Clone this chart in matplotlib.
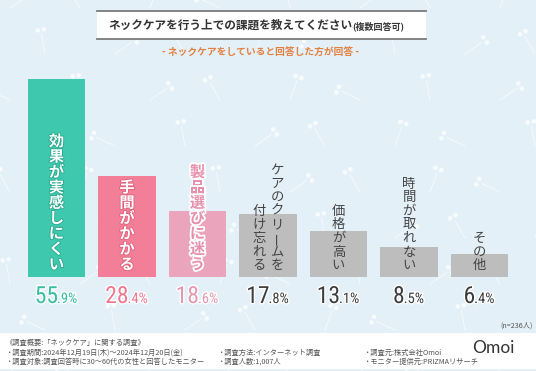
import matplotlib
matplotlib.use("Agg")
import matplotlib.pyplot as plt
import matplotlib.patheffects as pe
from matplotlib import font_manager
from matplotlib.patches import Rectangle, Circle
import math

plt.rcParams['font.family'] = ['Noto Sans CJK JP', 'DejaVu Sans']

# データ
values = [55.9, 28.4, 18.6, 17.8, 13.1, 8.5, 6.4]
labels = [["効果が実感しにくい"], ["手間がかかる"], ["製品選びに迷う"],
          ["ケアのクリームを", "付け忘れる"], ["価格が高い"], ["時間が取れない"], ["その他"]]
bar_colors = ["#3ec9ae", "#f27f97", "#eaa4bb", "#bdbdbd", "#bdbdbd", "#bdbdbd", "#bdbdbd"]
pct_colors = ["#38bfa4", "#ef7891", "#e597b0", "#3c3c3c", "#3c3c3c", "#3c3c3c", "#3c3c3c"]
title = "ネックケアを行う上での課題を教えてください"
title_sub = "(複数回答可)"
subtitle = "- ネックケアをしていると回答した方が回答 -"
n_note = "(n=236人)"
footer = [
    ("《調査概要:「ネックケア」に関する調査》", 5, 343),
    ("・調査期間:2024年12月19日(木)～2024年12月20日(金)", 5, 353),
    ("・調査対象:調査回答時に30～60代の女性と回答したモニター", 5, 362),
    ("・調査方法:インターネット調査", 217, 353),
    ("・調査人数:1,007人", 217, 362),
    ("・調査元:株式会社Omoi", 363, 353),
    ("・モニター提供元:PRIZMAリサーチ", 363, 362),
]

W, H = 536, 371
fig = plt.figure(figsize=(W / 100, H / 100), dpi=100)
fig.patch.set_facecolor("#e4f0f8")

# 背景（模様・タイトル・フッター）
bg = fig.add_axes([0, 0, 1, 1])
bg.set_xlim(0, W)
bg.set_ylim(H, 0)
bg.axis("off")

angles = [35, 120, 70, 155, 100]
k = 0
for row in range(9):
    for col in range(9):
        x0 = col * 70 + (35 if row % 2 else 0) + 10
        y0 = row * 46 + 8
        a = math.radians(angles[k % len(angles)])
        k += 1
        x1, y1 = x0 + 20 * math.cos(a), y0 - 20 * math.sin(a)
        bg.plot([x0, x1], [y0, y1], color="white", lw=0.6, alpha=0.7, zorder=0)
        for d in (-0.6, 0.6):
            bx = x1 + 5.5 * math.cos(a + d)
            by = y1 - 5.5 * math.sin(a + d)
            bg.add_patch(Circle((bx, by), 2.3, color="white", alpha=0.75, lw=0, zorder=0))

bg.add_patch(Rectangle((97, 11), 329, 28, facecolor="white", edgecolor="none", zorder=2))
bg.plot([97, 426], [11, 11], color="#7a7a7a", lw=1.3, zorder=3)
bg.plot([97, 426], [39, 39], color="#7a7a7a", lw=1.3, zorder=3)
bg.text(108, 25.5, title, fontsize=8.4, fontweight="bold", color="#333333",
        ha="left", va="center", zorder=4)
bg.text(352, 26, title_sub, fontsize=6.5, fontweight="bold", color="#333333",
        ha="left", va="center", zorder=4)
bg.text(261, 52, subtitle, fontsize=7, fontweight="bold", color="#e3803f",
        ha="center", va="center", zorder=4)

bg.add_patch(Rectangle((0, 333), W, 36, facecolor="white", edgecolor="none", zorder=2))
bg.text(533, 326, n_note, fontsize=5.2, color="#555555", ha="right", va="center", zorder=4)
for txt, fx, fy in footer:
    bg.text(fx, fy, txt, fontsize=5.2, color="#555555", ha="left", va="center", zorder=4)
bg.text(493, 348, "Omoi", fontsize=12.5, family=["Lato", "DejaVu Sans"], color="#333333",
        ha="center", va="center", zorder=4)

# 棒グラフ
x_left, x_right = 21.25, 514.75
base, top_px = 277, 79
ymax = 60
h_px = (base - top_px) * ymax / values[0]
ax = fig.add_axes([x_left / W, (H - base) / H, (x_right - x_left) / W, h_px / H])
ax.set_xlim(-0.5, len(values) - 0.5)
ax.set_ylim(0, ymax)
ax.axis("off")
ax.patch.set_alpha(0)

xs = list(range(len(values)))
ax.bar(xs, values, width=0.81, color=bar_colors, zorder=2)

# 縦書きラベル
for i, cols in enumerate(labels):
    if i < 3:
        fs, step, weight = 11, 15.4, "bold"
    else:
        fs, step, weight = 9.6, 13.6, "normal"
    if i == 0:
        color, effects = "white", [pe.withStroke(linewidth=1.2, foreground="#28a88e")]
    elif i == 1:
        color, effects = "white", [pe.withStroke(linewidth=1.2, foreground="#e0607c")]
    elif i == 2:
        color, effects = "#e690ad", [pe.withStroke(linewidth=2.5, foreground="white")]
    else:
        color, effects = "#444444", []
    ncol = len(cols)
    for c, txt in enumerate(cols):
        dx = (ncol - 1) * 9 - c * 18
        n = len(txt)
        for j, ch in enumerate(txt):
            oy = 5 + step / 2 + (n - 1 - j) * step
            rot = 90 if ch == "ー" else 0
            ax.annotate(ch, xy=(i, 0), xytext=(dx, oy), textcoords="offset pixels",
                        fontsize=fs, fontweight=weight, color=color, rotation=rot,
                        ha="center", va="center", path_effects=effects, zorder=5)

# パーセント表示
names = {f.name for f in font_manager.fontManager.ttflist}
num_font = "Roboto"
for cand in ["Liberation Sans Narrow", "Roboto Condensed", "Open Sans Condensed"]:
    if cand in names:
        num_font = cand
        break
pairs = []
for i, v in enumerate(values):
    big, small = f"{v:.1f}".split(".")
    t1 = ax.annotate(big, xy=(i, 0), xytext=(0, -26), textcoords="offset pixels",
                     fontsize=17, family=num_font, color=pct_colors[i],
                     ha="left", va="baseline", annotation_clip=False,
                     path_effects=[pe.withStroke(linewidth=2, foreground="white")])
    t2 = ax.annotate("." + small + "%", xy=(i, 0), xytext=(0, -26), textcoords="offset pixels",
                     fontsize=10.5, family=num_font, color=pct_colors[i],
                     ha="left", va="baseline", annotation_clip=False,
                     path_effects=[pe.withStroke(linewidth=2, foreground="white")])
    pairs.append((t1, t2))

fig.canvas.draw()
r = fig.canvas.get_renderer()
for t1, t2 in pairs:
    w1 = t1.get_window_extent(r).width
    w2 = t2.get_window_extent(r).width
    start = -(w1 + w2) / 2
    t1.xyann = (start, -26)
    t2.xyann = (start + w1 - 1, -26)

fig.savefig("out.png", dpi=100, facecolor=fig.get_facecolor())
